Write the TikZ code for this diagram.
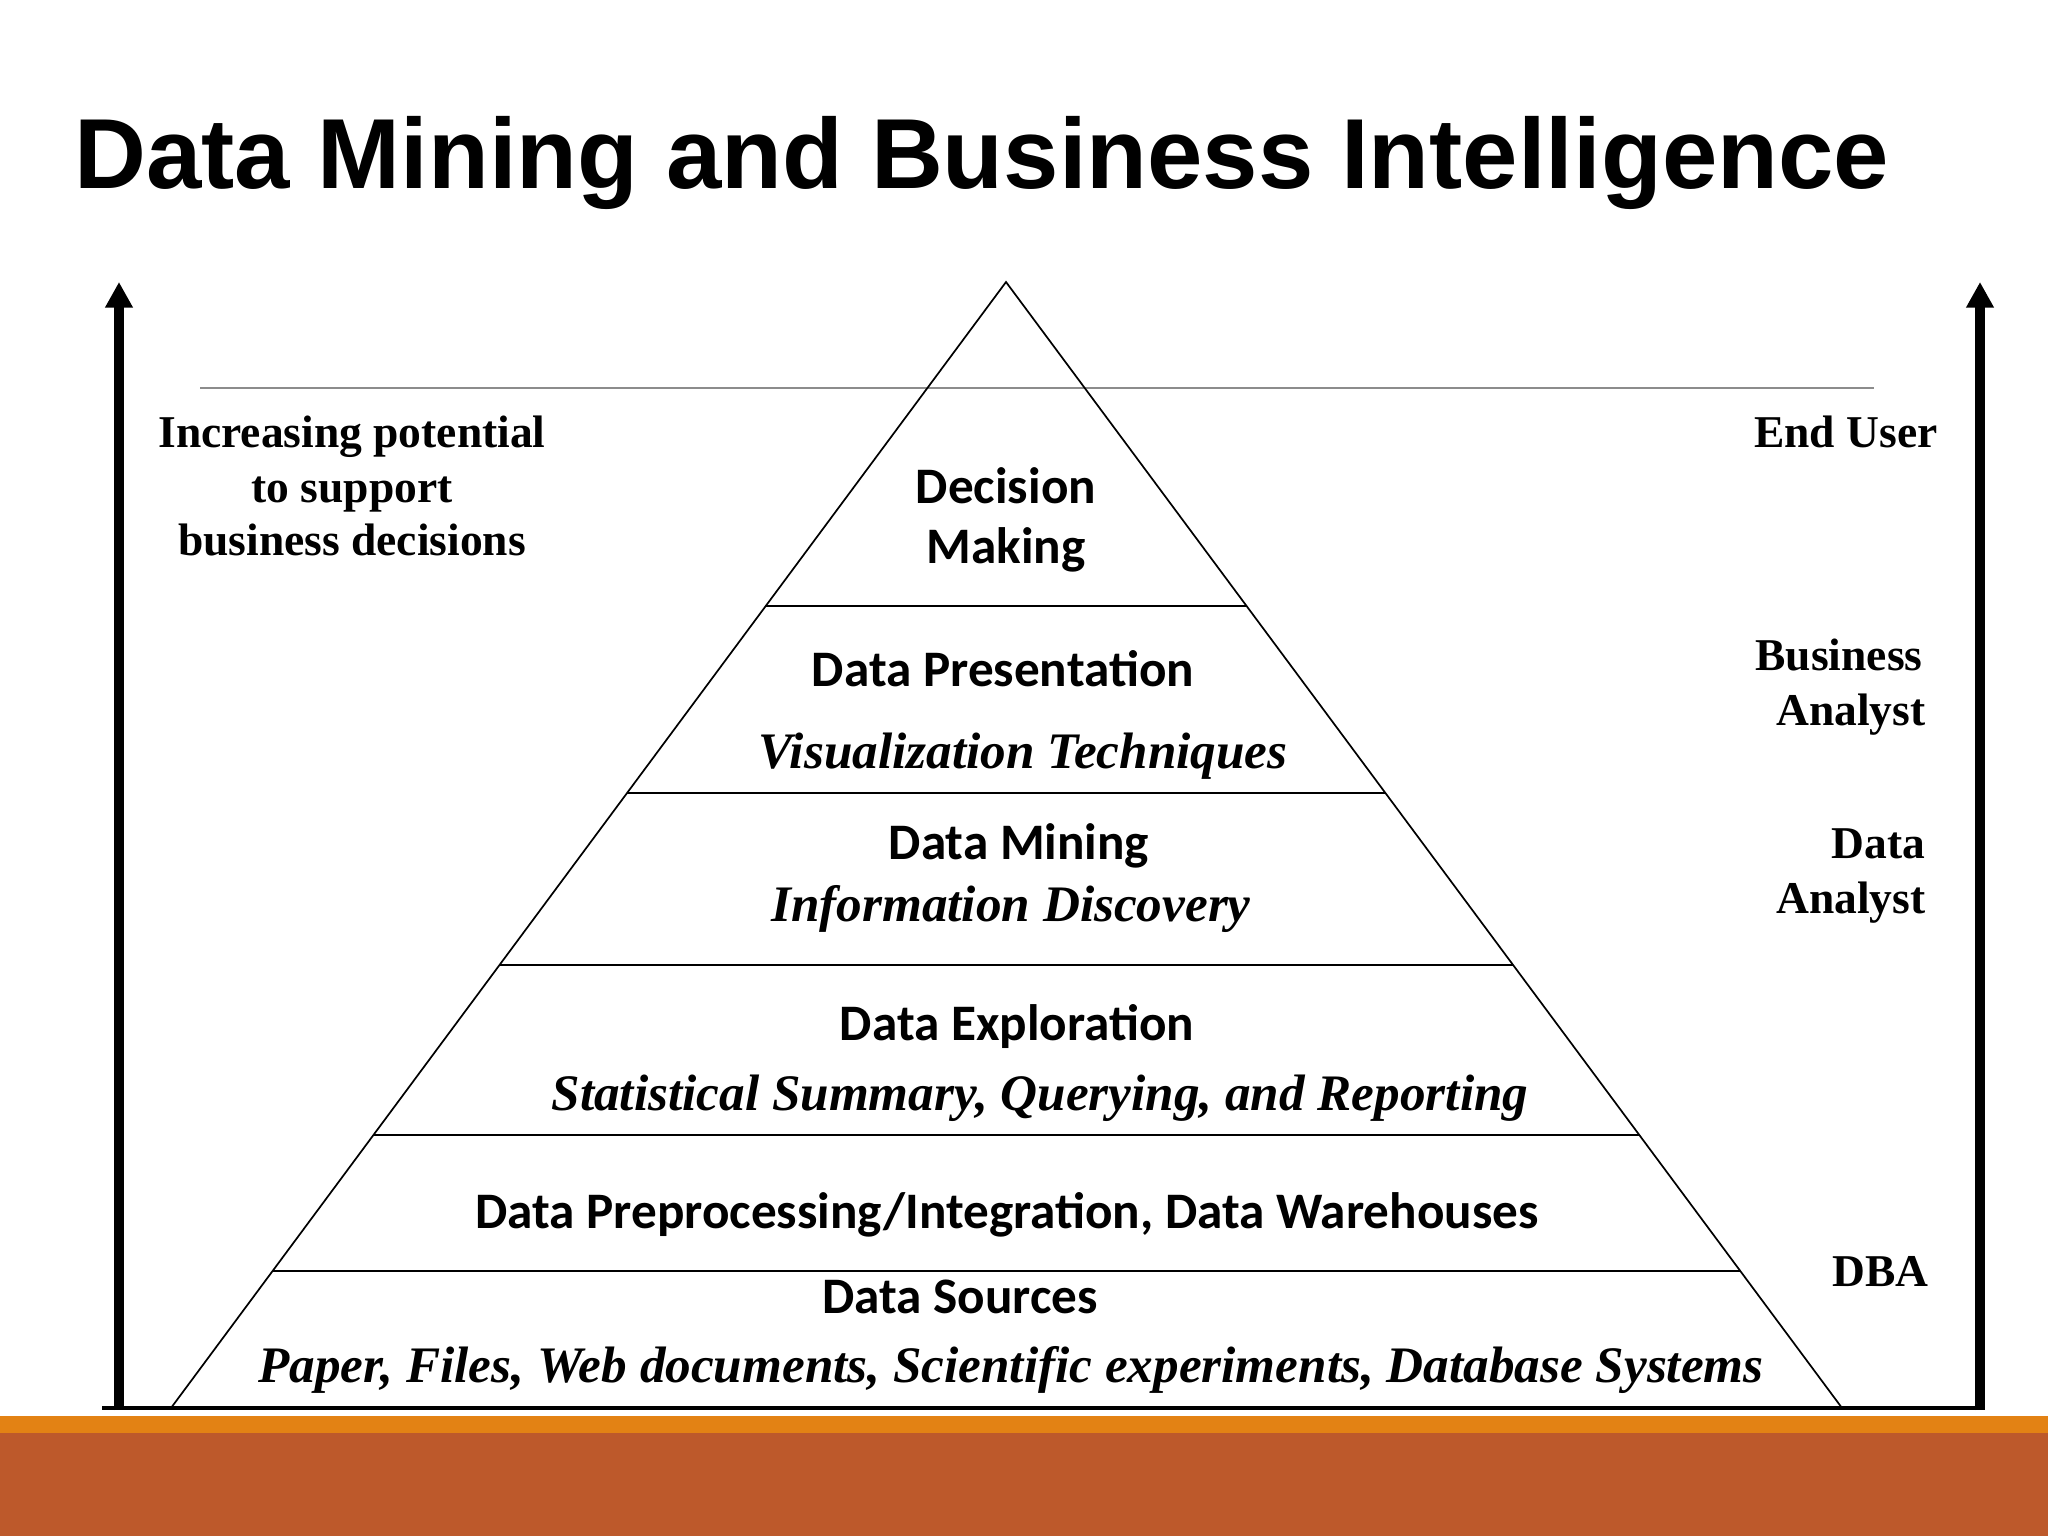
\documentclass[tikz,border=0pt]{standalone}
\usepackage{fontspec}
\setmainfont{Liberation Serif}
\newfontfamily\titlefont{Liberation Sans}
\newfontfamily\calfont{Carlito}
\usetikzlibrary{arrows.meta,calc}
\definecolor{orangebar}{RGB}{227,130,20}
\definecolor{rustbar}{RGB}{189,89,43}
\begin{document}
\begin{tikzpicture}[x=0.3515625pt,y=-0.3515625pt,
  tier/.style={anchor=base, inner sep=0, font=\calfont\bfseries\fontsize{18}{22}\selectfont},
  tierit/.style={anchor=base, inner sep=0, font=\bfseries\itshape\fontsize{18}{22}\selectfont},
  role/.style={anchor=base east, inner sep=0, font=\bfseries\fontsize{16}{19}\selectfont},
  potl/.style={anchor=base, inner sep=0, font=\bfseries\fontsize{16}{19}\selectfont},
  pyr/.style={line width=0.6pt, black},
  bigarrow/.style={line width=3.2pt, -{Triangle[width=9.2pt,length=9pt]}}]
\useasboundingbox (0,0) rectangle (2048,1536);
\fill[white] (0,0) rectangle (2048,1536);
\fill[rustbar] (0,1433) rectangle (2048,1536);
\fill[orangebar] (0,1416) rectangle (2048,1433);

% title
\node[anchor=base west, inner sep=0] (title) at (74,189)
  {\titlefont\bfseries\fontsize{35}{42}\selectfont Data Mining and Business Intelligence};

% gray guide line
\coordinate (g1) at (200,388);
\coordinate (g2) at (1874,388);
\draw[line width=0.7pt, black!45] (g1) -- (g2);

% pyramid
\coordinate (apex) at (1006,282);
\coordinate (bl) at (171,1408);
\coordinate (br) at (1842,1408);
\draw[pyr] (bl) -- (apex) -- (br);
\foreach \t/\n in {0.2877/a,0.4538/b,0.6066/c,0.7575/d,0.8783/e}{
  \draw[pyr] ($(apex)!\t!(bl)$) -- ($(apex)!\t!(br)$);
}

% base line and arrows
\coordinate (b1) at (102,1408);
\coordinate (b2) at (1984,1408);
\draw[line width=1.1pt] (b1) -- (b2);
\coordinate (la0) at (119,1410);
\coordinate (la1) at (119,282);
\coordinate (ra0) at (1980,1410);
\coordinate (ra1) at (1980,282);
\draw[bigarrow] (la0) -- (la1);
\draw[bigarrow] (ra0) -- (ra1);

% left label
\node[potl] (lp1) at (352,448) {Increasing potential};
\node[potl] (lp2) at (352,503) {to support};
\node[potl] (lp3) at (352,556) {business decisions};

% right labels
\node[role] (eu) at (1938,448) {End User};
\node[role] (ba1) at (1923,670) {Business};
\node[role] (ba2) at (1926,725) {Analyst};
\node[role] (da1) at (1926,858) {Data};
\node[role] (da2) at (1926,913) {Analyst};
\node[role] (dba) at (1929,1286) {DBA};

% pyramid texts
\node[tier] (dm1) at (1006,504) {Decision};
\node[tier] (dm2) at (1006,564) {Making};
\node[tier] (dp) at (1003,686) {Data Presentation};
\node[tierit] (vt) at (1023,768) {Visualization Techniques};
\node[tier] (dmi) at (1019,859) {Data Mining};
\node[tierit] (id) at (1011,921) {Information Discovery};
\node[tier] (de) at (1017,1040) {Data Exploration};
\node[tierit] (ss) at (1040,1110) {Statistical Summary, Querying, and Reporting};
\node[tier] (dpi) at (1007,1228) {Data Preprocessing/Integration, Data Warehouses};
\node[tier] (ds) at (960,1313) {Data Sources};
\node[tierit] (pf) at (1011,1382) {Paper, Files, Web documents, Scientific experiments, Database Systems};
\end{tikzpicture}
\end{document}
